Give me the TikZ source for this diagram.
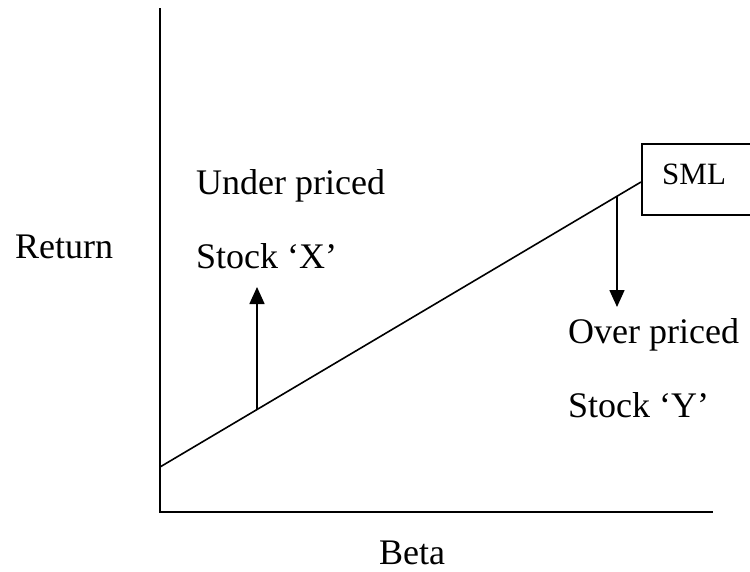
\documentclass[tikz,border=0pt]{standalone}
\usepackage{fontspec}
\setmainfont{Liberation Serif}
\usetikzlibrary{arrows.meta}
\begin{document}
\begin{tikzpicture}[x=1pt,y=-1pt,
  lbl/.style={anchor=base west,inner sep=0pt,font=\fontsize{36}{42}\selectfont},
  axis/.style={line width=2pt},
  thin/.style={line width=1.6pt},
  arr/.style={line width=1.6pt,-{Triangle[length=17pt,width=15pt]}}]
\useasboundingbox (0,0) rectangle (750,571);
\clip (0,0) rectangle (750,571);
% axes
\coordinate (ytop) at (160,8);
\coordinate (orig) at (160,512);
\coordinate (xend) at (713,512);
\draw[axis] (ytop) -- (orig) -- (xend);
% SML line
\coordinate (s0) at (160,467);
\coordinate (s1) at (641,182);
\draw[thin] (s0) -- (s1);
% SML box
\node[draw,line width=1.6pt,minimum width=120pt,minimum height=71pt,anchor=north west,inner sep=0pt] (box) at (641,143) {};
\node[anchor=base west,inner sep=0pt,font=\fontsize{31}{36}\selectfont] (sml) at (662,184) {SML};
% arrows
\coordinate (a0) at (257,409.5);
\coordinate (a1) at (257,287);
\draw[arr] (a0) -- (a1);
\coordinate (b0) at (617,196);
\coordinate (b1) at (617,307);
\draw[arr] (b0) -- (b1);
% labels
\node[lbl] (ret) at (15,258) {Return};
\node[lbl] (under) at (196,194) {Under priced};
\node[lbl] (sx) at (196,268) {Stock ‘X’};
\node[lbl] (over) at (568,343) {Over priced};
\node[lbl] (sy) at (568,417) {Stock ‘Y’};
\node[lbl] (beta) at (379,564) {Beta};
\end{tikzpicture}
\end{document}
